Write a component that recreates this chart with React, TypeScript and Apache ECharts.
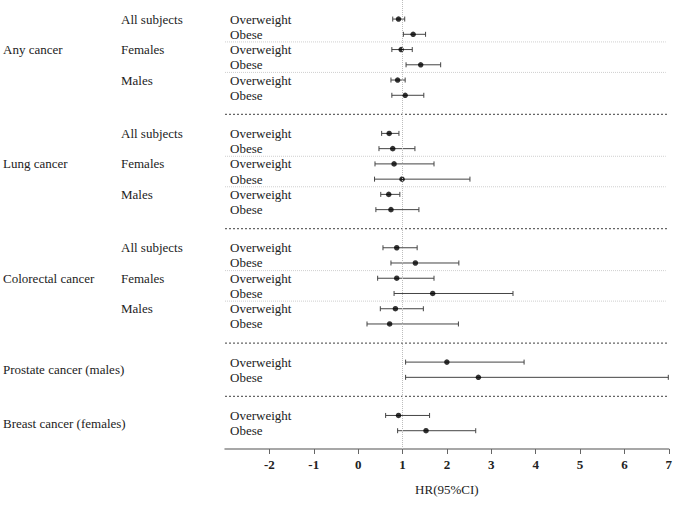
import React, { useEffect, useRef } from "react";
import * as echarts from "echarts";

// ---- Data ----
const groupNames = [
  "Any cancer",
  "Lung cancer",
  "Colorectal cancer",
  "Prostate cancer (males)",
  "Breast cancer (females)",
];
const subgroupNames = ["All subjects", "Females", "Males"];
const exposureLabels = ["Overweight", "Obese"];

// HR, lower CI, upper CI in row order (All Ow, All Ob, F Ow, F Ob, M Ow, M Ob)
const anyHR = [0.91, 1.24, 0.97, 1.41, 0.89, 1.06];
const anyLow = [0.78, 1.02, 0.76, 1.08, 0.74, 0.76];
const anyHigh = [1.05, 1.52, 1.22, 1.86, 1.06, 1.48];

const lungHR = [0.7, 0.78, 0.81, 0.99, 0.69, 0.74];
const lungLow = [0.53, 0.47, 0.38, 0.37, 0.51, 0.4];
const lungHigh = [0.92, 1.28, 1.71, 2.52, 0.94, 1.37];

const colorectalHR = [0.87, 1.29, 0.87, 1.68, 0.84, 0.71];
const colorectalLow = [0.56, 0.74, 0.44, 0.81, 0.5, 0.2];
const colorectalHigh = [1.33, 2.27, 1.71, 3.49, 1.47, 2.26];

const prostateHR = [2.0, 2.71];
const prostateLow = [1.07, 1.07];
const prostateHigh = [3.74, 6.99];

const breastHR = [0.91, 1.53];
const breastLow = [0.62, 0.89];
const breastHigh = [1.61, 2.65];

const xTicksMin = -3;
const xTicksMax = 7;

const groupData = [
  { hr: anyHR, low: anyLow, high: anyHigh, subs: subgroupNames },
  { hr: lungHR, low: lungLow, high: lungHigh, subs: subgroupNames },
  { hr: colorectalHR, low: colorectalLow, high: colorectalHigh, subs: subgroupNames },
  { hr: prostateHR, low: prostateLow, high: prostateHigh, subs: [""] },
  { hr: breastHR, low: breastLow, high: breastHigh, subs: [""] },
];

const FONT = "'Liberation Serif', 'Times New Roman', serif";

export default function App() {
  const ref = useRef<HTMLDivElement>(null);

  useEffect(() => {
    if (!ref.current) return;
    const chart = echarts.init(ref.current, undefined, { renderer: "svg" });

    // build row layout
    const points: number[][] = [];
    const cis: number[][] = [];
    const labels: { text: string; pos: number; col: number }[] = [];
    const seps: number[][] = []; // [pos, kind] kind 1 heavy, 0 light
    let pos = 0;
    groupData.forEach((g, gi) => {
      if (gi > 0) {
        seps.push([pos - 1 + 1.25, 1]);
        pos += 1.5;
      }
      const start = pos;
      g.subs.forEach((sub, si) => {
        if (si > 0) seps.push([pos - 0.5, 0]);
        if (sub) labels.push({ text: sub, pos, col: 1 });
        exposureLabels.forEach((ex, ei) => {
          const idx = si * 2 + ei;
          points.push([g.hr[idx], pos]);
          cis.push([g.low[idx], g.high[idx], pos]);
          labels.push({ text: ex, pos, col: 2 });
          pos += 1;
        });
      });
      const groupPos = g.subs.length > 1 ? start + 2 : start + 0.5;
      labels.push({ text: groupNames[gi], pos: groupPos, col: 0 });
    });

    const colX = [3, 121, 230];

    chart.setOption({
      animation: false,
      grid: { left: 225, right: 5, top: 0, bottom: 57 },
      xAxis: {
        type: "value",
        min: xTicksMin,
        max: xTicksMax,
        interval: 1,
        position: "bottom",
        axisLine: { show: true, onZero: false, lineStyle: { color: "#8a8a8a", width: 1.5 } },
        axisTick: { show: true, length: 5, lineStyle: { color: "#666" } },
        axisLabel: {
          fontFamily: FONT,
          fontWeight: "bold",
          fontSize: 13,
          color: "#222",
          margin: 9,
          showMinLabel: false,
        },
        splitLine: { show: false },
        name: "HR(95%CI)",
        nameLocation: "middle",
        nameGap: 34,
        nameTextStyle: { fontFamily: FONT, fontSize: 13, color: "#222" },
      },
      yAxis: {
        type: "value",
        inverse: true,
        min: -1.25,
        max: 28.2,
        show: false,
      },
      series: [
        {
          type: "custom",
          name: "separators",
          silent: true,
          data: seps.map((s) => [0, s[0], s[1]]),
          renderItem: (params: any, api: any) => {
            const y = api.coord([0, api.value(1)])[1];
            const heavy = api.value(2) === 1;
            const cs = params.coordSys;
            return {
              type: "line",
              shape: { x1: cs.x, y1: y, x2: cs.x + cs.width - (heavy ? 0 : 3), y2: y },
              style: {
                stroke: heavy ? "#666" : "#cfcfcf",
                lineWidth: heavy ? 1.2 : 1,
                lineDash: heavy ? [2, 2] : [1, 1],
              },
            };
          },
        },
        {
          type: "custom",
          name: "ci",
          silent: true,
          data: cis,
          renderItem: (params: any, api: any) => {
            const p = api.value(2);
            const a = api.coord([api.value(0), p]);
            const b = api.coord([api.value(1), p]);
            const st = { stroke: "#444", lineWidth: 1 };
            return {
              type: "group",
              children: [
                { type: "line", shape: { x1: a[0], y1: a[1], x2: b[0], y2: b[1] }, style: st },
                { type: "line", shape: { x1: a[0], y1: a[1] - 2.5, x2: a[0], y2: a[1] + 2.5 }, style: st },
                { type: "line", shape: { x1: b[0], y1: b[1] - 2.5, x2: b[0], y2: b[1] + 2.5 }, style: st },
              ],
            };
          },
        },
        {
          type: "scatter",
          name: "HR",
          data: points,
          symbol: "circle",
          symbolSize: 5.5,
          itemStyle: { color: "#000" },
          silent: true,
          markLine: {
            silent: true,
            symbol: "none",
            label: { show: false },
            lineStyle: { type: "dotted", color: "#bdbdbd", width: 1 },
            data: [{ xAxis: 1 }],
          },
        },
        {
          type: "custom",
          name: "labels",
          silent: true,
          data: labels.map((l, i) => [1, l.pos, i]),
          renderItem: (params: any, api: any) => {
            const l = labels[api.value(2)];
            const y = api.coord([1, api.value(1)])[1];
            return {
              type: "text",
              x: colX[l.col],
              y,
              style: {
                text: l.text,
                fill: "#222",
                fontFamily: FONT,
                fontSize: 13,
                align: "left",
                verticalAlign: "middle",
              },
            };
          },
        },
      ],
    });

    return () => chart.dispose();
  }, []);

  return (
    <div
      ref={ref}
      style={{ position: "fixed", left: 0, top: 0, width: 675, height: 506, background: "#fff" }}
    />
  );
}
